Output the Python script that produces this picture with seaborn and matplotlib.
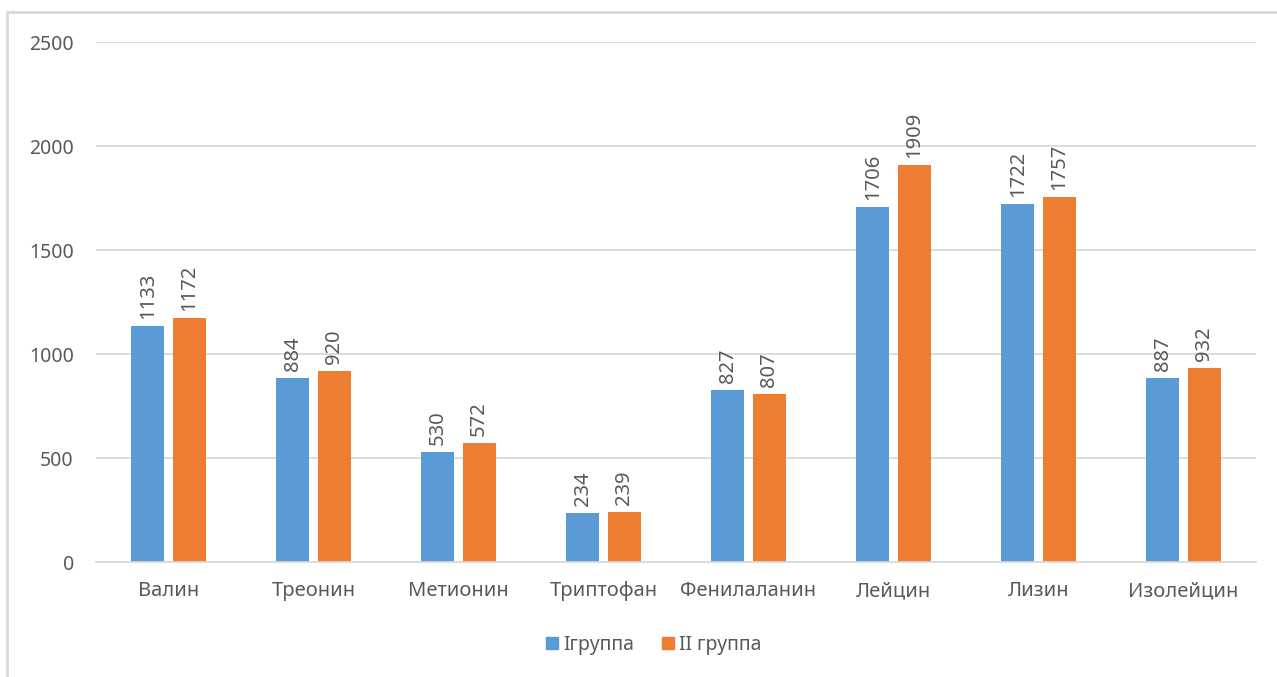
import matplotlib
matplotlib.use("Agg")
import matplotlib.pyplot as plt
import seaborn as sns
import pandas as pd
from matplotlib.patches import Rectangle
from matplotlib.lines import Line2D

categories = ["Валин", "Треонин", "Метионин", "Триптофан", "Фенилаланин",
              "Лейцин", "Лизин", "Изолейцин"]
group1 = [1133, 884, 530, 234, 827, 1706, 1722, 887]
group2 = [1172, 920, 572, 239, 807, 1909, 1757, 932]
series_names = ["Iгруппа", "II группа"]
y_ticks = [0, 500, 1000, 1500, 2000, 2500]

colors = ["#5B9BD5", "#ED7D31"]
text_color = "#595959"
grid_color = "#D9D9D9"

df = pd.DataFrame({
    "cat": categories * 2,
    "val": group1 + group2,
    "grp": [series_names[0]] * len(categories) + [series_names[1]] * len(categories),
})

sns.set_theme(style="white")
plt.rcParams["font.family"] = ["Noto Sans", "DejaVu Sans"]

W, H = 1277, 677
fig = plt.figure(figsize=(W / 100, H / 100), dpi=100)
ax = fig.add_axes([96 / W, 1 - 562 / H, (1256 - 96) / W, (562 - 42) / H])

sns.barplot(data=df, x="cat", y="val", hue="grp", palette=colors,
            width=0.566, gap=0.195, ax=ax, legend=False, saturation=1,
            errorbar=None, linewidth=0)

ax.set_ylim(0, 2500)
ax.set_xlim(-0.5, len(categories) - 0.5)
ax.set_yticks(y_ticks)
ax.yaxis.grid(True, color=grid_color, linewidth=1.3)
ax.set_axisbelow(True)
for s in ["top", "right", "left"]:
    ax.spines[s].set_visible(False)
ax.spines["bottom"].set_color(grid_color)
ax.spines["bottom"].set_linewidth(1.3)
ax.tick_params(axis="both", length=0, colors=text_color)
ax.tick_params(axis="y", pad=16, labelsize=14)
ax.tick_params(axis="x", pad=14, labelsize=14.5)
ax.set_xlabel("")
ax.set_ylabel("")

for cont in ax.containers:
    ax.bar_label(cont, fmt="%d", rotation=90, padding=5, fontsize=14.5,
                 color=text_color)

handles = [Line2D([], [], marker="s", linestyle="", markersize=9,
                  markerfacecolor=c, markeredgecolor=c) for c in colors]
fig.legend(handles, series_names, loc="center", bbox_to_anchor=(652 / W, 1 - 645 / H),
           ncol=2, frameon=False, fontsize=14, labelcolor=text_color,
           handletextpad=0.1, columnspacing=1.2, handlelength=1.0)

fig.patches.append(Rectangle((7 / W, -0.1), 1.2, 1 - 12 / H + 0.1,
                             transform=fig.transFigure, fill=False,
                             edgecolor=grid_color, linewidth=2))

fig.savefig("out.png", dpi=100)
